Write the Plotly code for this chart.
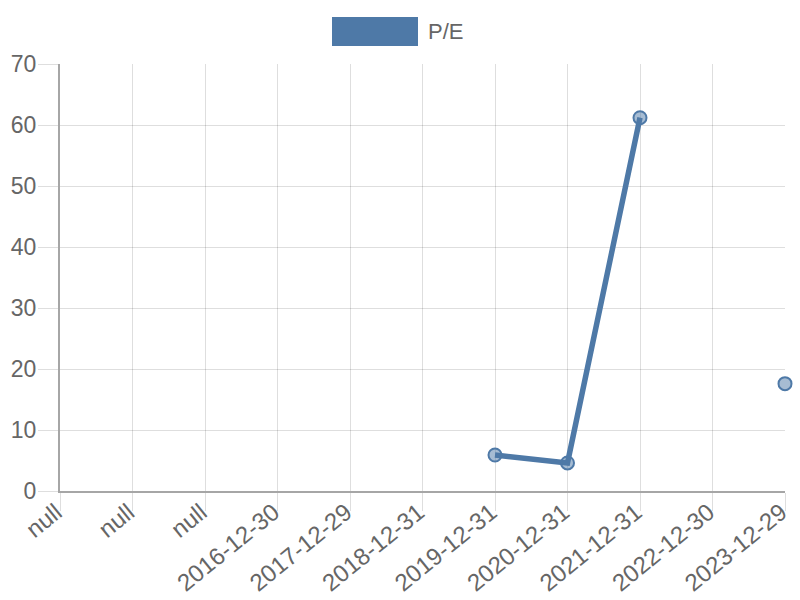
import plotly.graph_objects as go

BLUE = "#4E79A7"
TEXT = "#666666"
GRID = "rgba(0,0,0,0.13)"

dates = ["null", "null", "null", "2016-12-30", "2017-12-29", "2018-12-31",
         "2019-12-31", "2020-12-31", "2021-12-31", "2022-12-30", "2023-12-29"]
pe = [None, None, None, None, None, None, 5.9, 4.6, 61.2, None, 17.6]
idx = list(range(len(dates)))

fig = go.Figure()
fig.add_trace(
    go.Scatter(
        x=idx, y=pe, mode="lines+markers", name="P/E",
        line=dict(color=BLUE, width=5.5),
        marker=dict(size=13, color="rgba(78,121,167,0.5)", line=dict(color=BLUE, width=2)),
        connectgaps=False, cliponaxis=False, showlegend=False,
    )
)

fig.update_layout(
    width=800, height=600,
    paper_bgcolor="white", plot_bgcolor="white",
    font=dict(family="Liberation Sans, Arial, sans-serif", size=22, color=TEXT),
    margin=dict(l=60, r=15, t=64, b=109),
    xaxis=dict(
        range=[0, len(dates) - 1], tickmode="array", tickvals=idx, ticktext=dates,
        tickangle=-39, tickfont=dict(size=24), showgrid=True, gridcolor=GRID, gridwidth=1,
        showline=True, linecolor="#a6a6a6", linewidth=2,
        ticks="outside", ticklen=18, tickcolor=GRID, ticklabelstandoff=-22,
        ticklabelshift=-4, zeroline=False, automargin=False,
    ),
    yaxis=dict(
        range=[0, 70], dtick=10, tickfont=dict(size=23), showgrid=True, gridcolor=GRID, gridwidth=1,
        showline=True, linecolor="#a6a6a6", linewidth=2,
        ticks="outside", ticklen=20, tickcolor=GRID, ticklabelstandoff=-3,
        zeroline=False, automargin=False,
    ),
    shapes=[dict(type="rect", xref="paper", yref="paper",
                 x0=(332 - 60) / 725, x1=(418 - 60) / 725,
                 y0=(491 - 46) / 427, y1=(491 - 17) / 427,
                 fillcolor=BLUE, line=dict(width=0))],
    annotations=[dict(text="P/E", xref="paper", yref="paper",
                      x=(426 - 60) / 725, y=(491 - 31.5) / 427,
                      xanchor="left", yanchor="middle", showarrow=False,
                      font=dict(size=22, color=TEXT))],
)

fig.write_html("out.html", config={"displayModeBar": False},
               post_script="document.body.style.margin = '0';")
